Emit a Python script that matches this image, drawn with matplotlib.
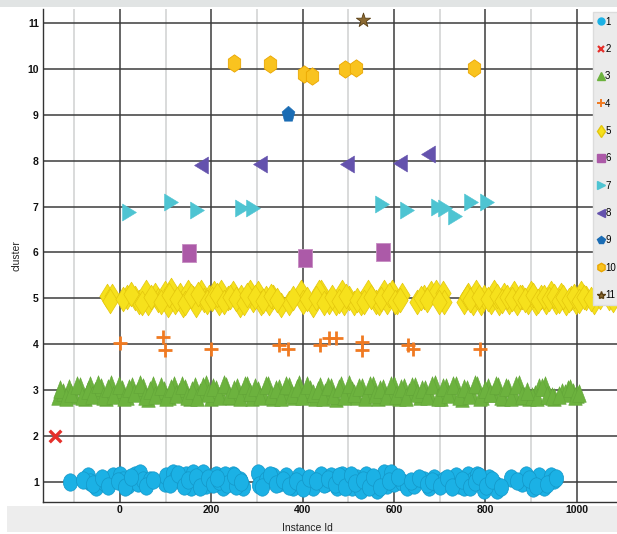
import matplotlib
matplotlib.use("Agg")
import matplotlib.pyplot as plt
from matplotlib.markers import MarkerStyle
from matplotlib.transforms import Affine2D
from matplotlib.lines import Line2D
from matplotlib.patches import Rectangle

plt.rcParams['font.family'] = ['Liberation Sans', 'DejaVu Sans']

# cluster 1 (circles)
x1 = [-109, -69, -65, -51, -33, -15, 0, 7, 18, 33, 40, 44, 51, 65, 98, 102, 116, 124, 135, 145,
      156, 160, 171, 182, 189, 200, 211, 222, 225, 240, 247, 262, 269, 302, 305, 320, 335, 349, 364, 378,
      393, 407, 422, 440, 451, 447, 461, 476, 487, 498, 509, 520, 527, 538, 560, 563, 578, 585, 593, 600,
      618, 629, 644, 666, 677, 688, 695, 709, 720, 735, 742, 753, 761, 772, 782, 790, 797, 808, 823, 826,
      855, 881, 888, 903, 918, 928, 943, 950,
      -80, -58, -40, -25, -5, 12, 25, 58,
      72, 110, 128, 140, 150, 166, 176, 194,
      205, 216, 230, 235, 255, 250, 265, 212,
      312, 328, 342, 356, 370, 385, 400, 415,
      430, 455, 470, 480, 493, 505, 515, 532,
      545, 553, 570, 590, 608, 636, 655, 672,
      683, 700, 715, 727, 748, 767, 777, 786,
      802, 815, 833, 870, 895, 910, 935, 955]
y1 = [1.0, 1.12, 0.99, 0.9, 0.98, 1.12, 1.16, 1.05, 0.94, 1.16, 0.98, 1.2, 1.05, 1.05, 0.98, 1.12, 1.2, 1.09, 1.01, 1.16,
      0.9, 1.2, 1.05, 1.2, 0.94, 1.05, 1.16, 1.09, 0.9, 1.05, 1.16, 1.05, 0.9, 1.2, 0.94, 1.05, 1.12, 0.98, 1.12, 0.9,
      1.12, 1.01, 0.9, 1.16, 0.98, 0.96, 1.12, 0.9, 1.16, 1.01, 0.9, 1.09, 0.83, 1.16, 1.05, 0.83, 1.2, 0.94, 1.2, 0.98,
      1.01, 0.9, 0.94, 1.05, 0.9, 1.09, 0.98, 1.05, 0.98, 1.12, 0.94, 0.9, 1.16, 1.05, 1.16, 0.98, 0.83, 1.09, 0.94, 0.83,
      1.09, 0.98, 1.16, 0.87, 1.12, 0.9, 1.12, 1.05,
      1.05, 0.95, 1.08, 0.92, 1.02, 0.88, 1.1, 0.92,
      1.05, 0.95, 1.18, 0.92, 1.05, 1.1, 0.88, 1.08,
      0.95, 1.02, 1.15, 0.96, 0.92, 1.12, 1.0, 1.08,
      0.9, 1.16, 0.95, 1.05, 0.92, 1.02, 0.87, 1.08,
      1.02, 1.06, 0.95, 1.12, 0.9, 1.16, 0.98, 1.05,
      0.9, 1.1, 0.9, 1.02, 1.1, 1.02, 1.08, 0.95,
      1.02, 0.92, 1.08, 0.88, 1.05, 0.9, 1.0, 1.12,
      0.92, 1.05, 0.88, 1.02, 1.06, 0.92, 0.95, 1.08]

# cluster 2 (x)
x2 = [-142]
y2 = [2.0]

# cluster 3 (triangles)
x3 = [-135, -125, -112, -100, -88, -76, -65, -55, -42, -30,
      -20, -8, 5, 15, 27, 38, 50, 62, 72, 85,
      96, 108, 118, 130, 142, 153, 165, 176, 188, 199,
      210, 222, 233, 245, 256, 268, 279, 290, 302, 313,
      325, 336, 348, 359, 370, 382, 393, 405, 416, 428,
      439, 450, 462, 473, 485, 496, 508, 519, 530, 542,
      553, 565, 576, 588, 599, 610, 622, 633, 645, 656,
      668, 679, 690, 702, 713, 725, 736, 748, 759, 770,
      782, 793, 805, 816, 828, 839, 850, 862, 873, 885,
      895, 908, 918, 930, 940, 950, 968, 980, 992, 1000,
      -130, -118, -106, -94, -82, -70, -60, -48, -36, -25,
      -14, -2, 10, 21, 32, 44, 56, 67, 78, 90,
      102, 113, 124, 136, 147, 159, 170, 182, 193, 204,
      216, 227, 239, 250, 262, 273, 284, 296, 307, 319,
      330, 342, 353, 364, 376, 387, 399, 410, 422, 433,
      444, 456, 467, 479, 490, 502, 513, 524, 536, 547,
      559, 570, 582, 593, 604, 616, 627, 639, 650, 662,
      673, 684, 696, 707, 719, 730, 742, 753, 764, 776,
      787, 799, 810, 822, 833, 844, 856, 867, 879, 902,
      913, 924, 935, 945, 974, 986, 996, 960, 890, 1004]
y3 = [2.88, 2.95, 3.05, 2.9, 3.1, 2.86, 3.12, 2.98, 3.08, 2.85,
      3.14, 2.92, 3.02, 2.87, 3.1, 2.96, 3.06, 2.84, 3.12, 2.93,
      3.0, 2.88, 3.11, 2.95, 3.05, 2.86, 3.09, 2.97, 3.13, 2.85,
      3.03, 2.9, 3.1, 2.87, 3.07, 2.94, 3.12, 2.86, 3.0, 2.91,
      3.11, 2.85, 3.05, 2.96, 3.09, 2.88, 3.13, 2.92, 3.02, 2.86,
      3.1, 2.95, 3.06, 2.84, 3.12, 2.9, 3.0, 2.87, 3.08, 2.94,
      3.11, 2.86, 3.04, 2.92, 3.12, 2.85, 3.06, 2.97, 3.1, 2.88,
      3.02, 2.9, 3.13, 2.86, 3.07, 2.95, 3.11, 2.84, 3.03, 2.91,
      3.12, 2.87, 3.06, 2.94, 3.1, 2.85, 3.04, 2.92, 3.13, 2.88,
      2.86, 2.92, 3.08, 3.12, 2.9, 2.86, 2.95, 3.02, 2.96, 2.92,
      3.02, 2.86, 2.93, 3.12, 2.88, 3.0, 2.9, 3.13, 2.87, 3.04,
      2.89, 3.11, 2.86, 3.05, 2.93, 3.13, 2.87, 3.0, 2.9, 3.1,
      2.85, 3.05, 2.92, 3.12, 2.88, 3.01, 2.86, 3.1, 2.93, 3.06,
      2.87, 3.13, 2.9, 3.02, 2.85, 3.11, 2.95, 3.06, 2.88, 3.12,
      2.9, 3.03, 2.86, 3.11, 2.92, 3.05, 2.87, 3.12, 2.94, 3.0,
      2.86, 3.1, 2.9, 3.04, 2.88, 3.13, 2.93, 3.06, 2.85, 3.11,
      2.91, 3.02, 2.87, 3.12, 2.9, 3.05, 2.86, 3.1, 2.94, 3.03,
      2.88, 3.12, 2.85, 3.06, 2.92, 3.11, 2.87, 3.04, 2.9, 3.13,
      2.86, 3.02, 2.93, 3.11, 2.88, 3.06, 2.85, 3.12, 2.9, 2.88,
      2.85, 3.08, 2.9, 2.87, 2.93, 3.04, 2.88, 2.9, 2.98, 2.94]

# cluster 4 (+)
x4 = [0, 94, 98, 200, 349, 368, 438, 458, 473, 530, 530, 630, 641, 789]
y4 = [4.02, 4.15, 3.87, 3.89, 3.98, 3.89, 3.98, 4.13, 4.13, 4.04, 3.87, 3.98, 3.89, 3.89]

# cluster 5 (thin diamonds)
x5 = [-29, -16, 16, 33, 42, 57, 62, 76, 84, 98, 105, 113, 120, 131, 138, 149, 160, 167, 178, 185,
      196, 207, 218, 222, 236, 247, 262, 265, 284, 291, 302, 309, 320, 327, 335, 353, 371, 396, 400, 422,
      440, 436, 458, 472, 487, 491, 501, 512, 527, 542, 560, 567, 578, 585, 596, 607, 618, 651, 666, 680,
      691, 706, 709, 753, 761, 772, 779, 790, 797, 812, 819, 830, 841, 852, 863, 870, 881, 892, 899, 910,
      921, 932, 943, 954, 965, 976, 987, 998, 1009, 1020, 1038, 1071, 1090,
      -22, 8, 25, 48, 68, 90, 108, 125,
      143, 155, 172, 190, 202, 213, 228, 242,
      255, 272, 278, 296, 314, 330, 345, 380,
      410, 430, 447, 465, 480, 495, 520, 535,
      550, 572, 590, 602, 612, 658, 673, 698,
      760, 767, 785, 805, 825, 836, 847, 858,
      875, 887, 905, 915, 927, 938, 949, 960,
      970, 982, 993, 1004, 1015, 1030, 1050, 1080]
y5 = [5.05, 5.05, 5.04, 5.0, 4.93, 5.14, 4.89, 5.07, 4.96, 5.11, 4.86, 5.18, 4.93, 5.07, 4.86, 5.14, 5.0, 4.86, 5.14, 4.96,
      5.04, 5.11, 4.89, 5.14, 5.0, 5.11, 4.86, 5.04, 5.14, 4.96, 5.11, 4.89, 5.0, 4.89, 5.04, 4.86, 4.89, 5.14, 4.93, 4.86,
      5.14, 5.14, 4.93, 4.89, 5.14, 4.89, 5.0, 4.89, 4.89, 5.14, 4.93, 4.89, 5.14, 4.93, 5.14, 4.93, 5.07, 4.93, 5.04, 5.11,
      5.14, 5.11, 4.93, 4.93, 5.07, 4.89, 5.14, 4.89, 5.04, 4.93, 5.14, 4.89, 5.07, 4.93, 5.11, 4.89, 5.04, 4.93, 5.11, 4.89,
      5.04, 4.93, 5.11, 4.93, 5.07, 4.89, 5.0, 4.93, 5.11, 5.0, 4.93, 5.0, 5.02,
      4.95, 4.98, 5.1, 4.9, 5.02, 4.92, 5.08, 4.98,
      4.9, 5.05, 5.1, 4.92, 4.98, 5.08, 4.92, 5.02,
      4.98, 4.9, 5.08, 5.02, 4.94, 5.06, 4.96, 5.0,
      4.98, 5.0, 4.9, 5.02, 4.95, 5.05, 4.96, 4.92,
      5.04, 4.98, 5.08, 4.92, 4.96, 5.0, 4.96, 4.92,
      5.02, 4.96, 5.04, 4.98, 5.06, 4.95, 5.02, 4.98,
      5.04, 4.96, 5.08, 4.95, 5.02, 4.98, 5.06, 4.95,
      5.02, 4.96, 5.06, 4.95, 5.04, 4.98, 5.02, 4.96]

# cluster 6 (squares)
x6 = [152, 405, 575]
y6 = [5.98, 5.89, 6.01]

# cluster 7 (right triangles)
x7 = [20, 113, 168, 267, 292, 573, 628, 696, 711, 734, 769, 804]
y7 = [6.89, 7.09, 6.93, 6.96, 6.96, 7.06, 6.93, 7.0, 6.98, 6.8, 7.09, 7.09]

# cluster 8 (left triangles)
x8 = [178, 306, 496, 613, 674]
y8 = [7.9, 7.93, 7.93, 7.96, 8.15]

# cluster 9 (pentagon)
x9 = [368]
y9 = [9.02]

# cluster 10 (hexagons)
x10 = [250, 328, 403, 420, 493, 516, 775]
y10 = [10.12, 10.1, 9.88, 9.85, 9.99, 10.01, 10.02]

# cluster 11 (star)
x11 = [532]
y11 = [11.06]

labels = ['1', '2', '3', '4', '5', '6', '7', '8', '9', '10', '11']


def stretched(m, sx=1.0, sy=1.22):
    return MarkerStyle(m, transform=Affine2D().scale(sx, sy))


fig = plt.figure(figsize=(6.17, 5.34), dpi=100)
fig.add_artist(Rectangle((0, 1 - 7 / 534), 1, 7 / 534, transform=fig.transFigure,
                         facecolor='#e1e4e4', edgecolor='none', zorder=-2))
fig.add_artist(Rectangle((7 / 617, 2 / 534), 1, 26 / 534, transform=fig.transFigure,
                         facecolor='#ededed', edgecolor='none', zorder=-2))

ax = fig.add_axes([43 / 617, 32 / 534, 602 / 617, 493 / 534])

ax.scatter(x1, y1, s=105, marker=stretched('o'), facecolor='#1bb1e5', edgecolor='#1497c8', linewidths=0.5, zorder=3)
ax.scatter(x2, y2, s=70, marker='x', color='#e5302b', linewidths=2.4, zorder=3)
ax.scatter(x3, y3, s=95, marker=stretched('^', 1.0, 1.3), facecolor='#6cb23e', edgecolor='#62a538', linewidths=0.4, zorder=3)
ax.scatter(x4, y4, s=90, marker='+', color='#f07a21', linewidths=2.0, zorder=3)
ax.scatter(x5, y5, s=75, marker=stretched('d', 1.5, 1.45), facecolor='#f6e11c', edgecolor='#e3c60d', linewidths=0.5, zorder=3)
ax.scatter(x6, y6, s=90, marker=stretched('s', 1.0, 1.3), facecolor='#ac5aa8', edgecolor='#c68cc2', linewidths=0.6, zorder=3)
ax.scatter(x7, y7, s=100, marker=stretched('>'), facecolor='#4ec4d2', edgecolor='#4ec4d2', linewidths=0.4, zorder=3)
ax.scatter(x8, y8, s=100, marker=stretched('<'), facecolor='#6452ad', edgecolor='#6452ad', linewidths=0.4, zorder=3)
ax.scatter(x9, y9, s=95, marker=stretched('p'), facecolor='#1a6cb4', edgecolor='#1a6cb4', linewidths=0.4, zorder=3)
ax.scatter(x10, y10, s=105, marker=stretched('h'), facecolor='#f9c31f', edgecolor='#eaa600', linewidths=0.6, zorder=3)
ax.scatter(x11, y11, s=115, marker='*', facecolor='#8c6a32', edgecolor='#5a4015', linewidths=0.6, zorder=3)

ax.set_xlim(-168, 1149)
ax.set_ylim(0.564, 11.305)
ax.set_xticks([0, 200, 400, 600, 800, 1000])
ax.set_xticks([-100, 100, 300, 500, 700, 900, 1100], minor=True)
ax.set_yticks(range(1, 12))
ax.grid(which='major', color='#3c3c3c', linewidth=1.1, zorder=0)
ax.grid(which='minor', axis='x', color='#cfd1d1', linewidth=1.1, zorder=0)
ax.set_axisbelow(True)
ax.tick_params(which='both', length=0, labelsize=7.5, colors='#111111')
ax.tick_params(axis='y', pad=3)
ax.tick_params(axis='x', pad=2)
for t in ax.get_xticklabels() + ax.get_yticklabels():
    t.set_fontweight('bold')
for s in ['top', 'right']:
    ax.spines[s].set_visible(False)
for s in ['left', 'bottom']:
    ax.spines[s].set_color('#333333')
    ax.spines[s].set_linewidth(1.0)

ax.set_xlabel('Instance Id', fontsize=7.5, color='#222222')
ax.set_ylabel('cluster', fontsize=7.5, color='#222222')
ax.xaxis.set_label_coords((307 - 43) / 602, -0.043)
ax.yaxis.set_label_coords(-0.036, 0.5)

handles = [
    Line2D([], [], ls='none', marker='o', ms=5, mfc='#1bb1e5', mec='#1bb1e5'),
    Line2D([], [], ls='none', marker='x', ms=5, mec='#e5302b', mew=1.6),
    Line2D([], [], ls='none', marker='^', ms=6, mfc='#6cb23e', mec='#6cb23e'),
    Line2D([], [], ls='none', marker='+', ms=6, mec='#f07a21', mew=1.4),
    Line2D([], [], ls='none', marker='d', ms=6, mfc='#f6e11c', mec='#e3c60d'),
    Line2D([], [], ls='none', marker='s', ms=6, mfc='#ac5aa8', mec='#ac5aa8'),
    Line2D([], [], ls='none', marker='>', ms=6, mfc='#4ec4d2', mec='#4ec4d2'),
    Line2D([], [], ls='none', marker='<', ms=6, mfc='#6452ad', mec='#6452ad'),
    Line2D([], [], ls='none', marker='p', ms=6, mfc='#1a6cb4', mec='#1a6cb4'),
    Line2D([], [], ls='none', marker='h', ms=6, mfc='#f9c31f', mec='#eaa600'),
    Line2D([], [], ls='none', marker='*', ms=6, mfc='#8c6a32', mec='#5a4015'),
]
leg = ax.legend(handles, labels, loc='upper left', bbox_to_anchor=(593 / 617, 1 - 12 / 534),
                bbox_transform=fig.transFigure, borderaxespad=0, fontsize=7, frameon=True,
                fancybox=False, facecolor='#ebebeb', edgecolor='#dcdcdc', framealpha=1,
                labelspacing=1.78, handlelength=0.6, handletextpad=0.15, borderpad=0.5)
leg.set_zorder(5)

fig.savefig('out.png', dpi=100)
